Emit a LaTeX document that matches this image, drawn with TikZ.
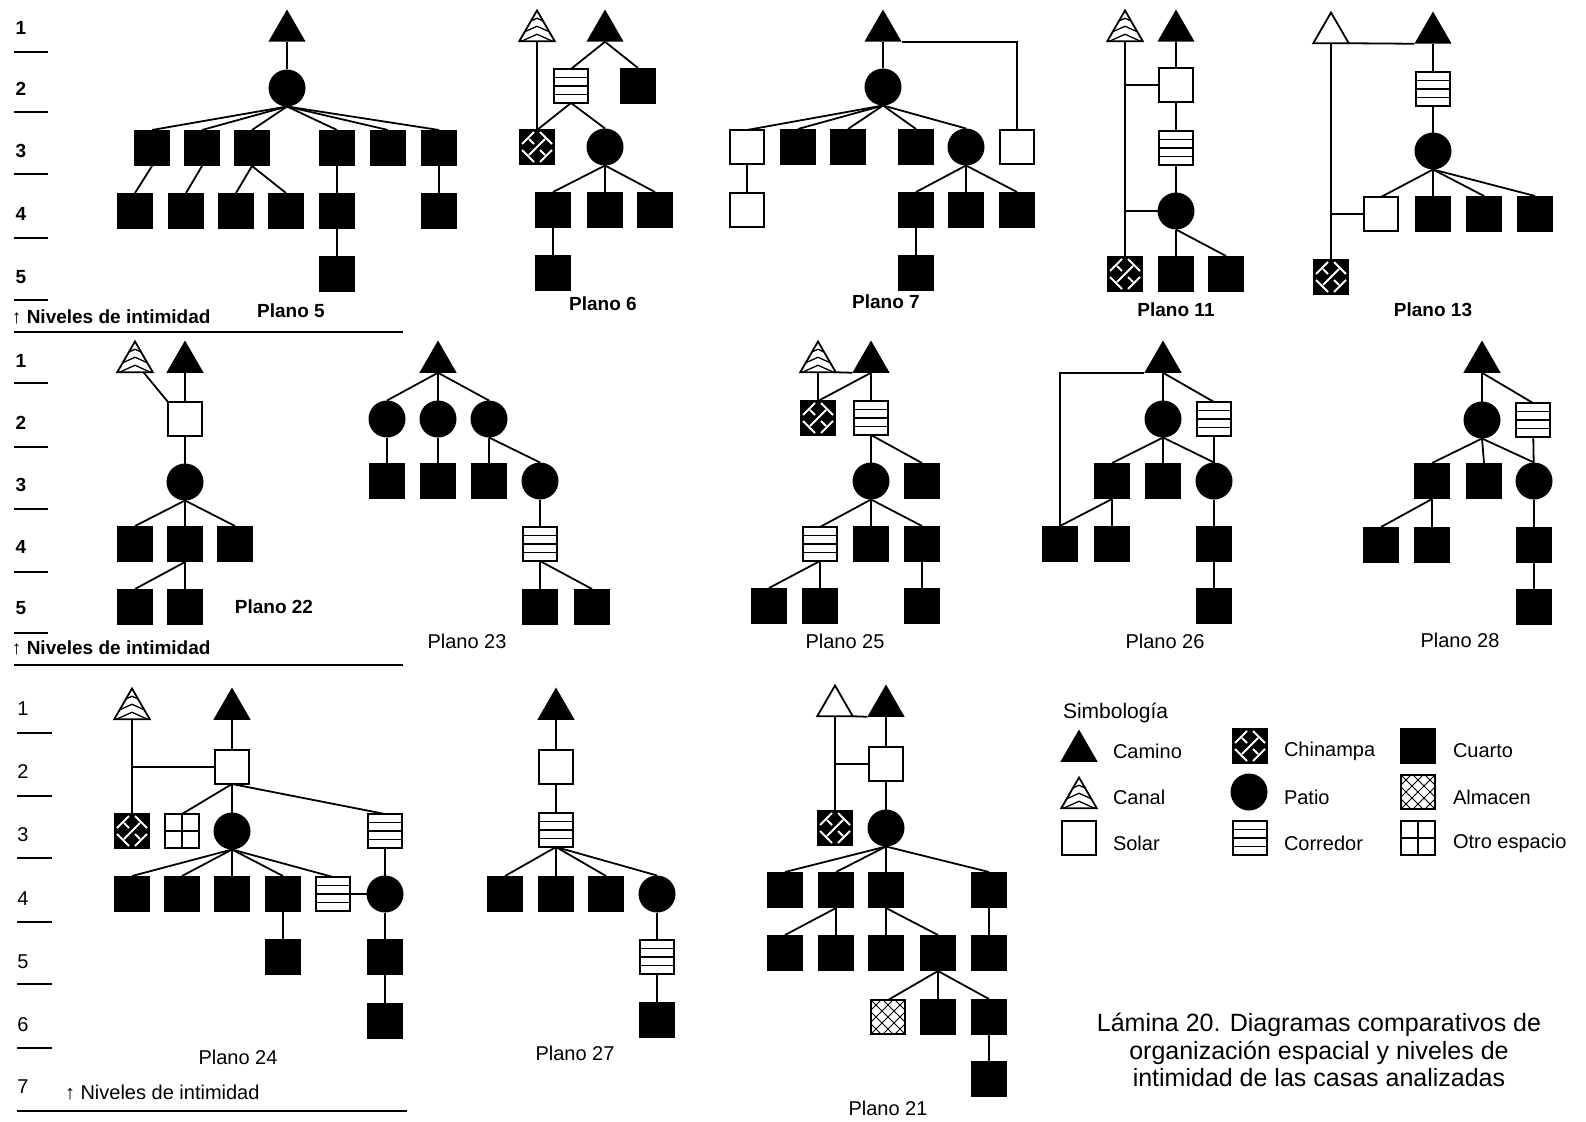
\documentclass[tikz,border=0pt]{standalone}
\usepackage{fontspec}
\setmainfont{Liberation Sans}
\usetikzlibrary{shapes.geometric}

\newcommand{\pb}{path picture bounding box}
\newcommand{\ws}[4]{\draw[white,line width=2pt] ([xshift=#1pt,yshift=#2pt]\pb.center) -- ([xshift=#3pt,yshift=#4pt]\pb.center);}

\tikzset{
  cuarto/.style={rectangle, fill=black, minimum size=36pt},
  solar/.style={rectangle, draw, fill=white, minimum size=34pt},
  patio/.style={circle, fill=black, minimum size=37pt},
  camino/.style={regular polygon, regular polygon sides=3, fill=black, minimum size=43pt},
  blanco/.style={regular polygon, regular polygon sides=3, draw, fill=white, minimum size=41pt},
  canal/.style={blanco, path picture={\foreach \h in {7,15,23} \draw[line width=1.3pt] ([xshift=-20pt,yshift={(\h-9)*1pt}]\pb.south) -- ([yshift=\h pt]\pb.south) -- ([xshift=20pt,yshift={(\h-9)*1pt}]\pb.south);}},
  chinampa/.style={rectangle, draw, fill=black, minimum size=34pt, path picture={\ws{-15}{3}{-3}{15}\ws{3}{-15}{15}{-3}\ws{-15}{-3}{-3}{-15}\ws{3}{15}{15}{3}\ws{-8}{-8}{8}{8}\ws{-8}{8}{-3}{3}\ws{3}{-3}{8}{-8}}},
  corredor/.style={solar, path picture={\foreach \d in {-8.5,0,8.5} \draw[line width=1.6pt] ([yshift=\d pt]\pb.west) -- ([yshift=\d pt]\pb.east);}},
  almacen/.style={solar, path picture={\foreach \s in {-24,-12,0,12,24} {\draw[line width=0.8pt] ([xshift={(\s-20)*1pt},yshift=-20pt]\pb.center) -- ([xshift={(\s+20)*1pt},yshift=20pt]\pb.center); \draw[line width=0.8pt] ([xshift={(\s-20)*1pt},yshift=20pt]\pb.center) -- ([xshift={(\s+20)*1pt},yshift=-20pt]\pb.center);}}},
  otro/.style={solar, path picture={\draw[line width=1.5pt] (\pb.north) -- (\pb.south) (\pb.west) -- (\pb.east);}},
  plano/.style={font=\fontsize{19}{22}\selectfont\bfseries},
  planor/.style={font=\fontsize{20}{23}\selectfont},
  nivel/.style={font=\fontsize{19}{22}\selectfont\bfseries},
  nivelr/.style={font=\fontsize{20}{23}\selectfont},
  leyenda/.style={font=\fontsize{20}{23}\selectfont, anchor=west}
}

\begin{document}
\begin{tikzpicture}[x=1pt, y=-1pt, line width=1.8pt, every node/.style={inner sep=0pt, outer sep=0pt}]
\useasboundingbox (0,0) rectangle (1586,1121);

\foreach \n/\y/\b in {1/28/52,2/89/112,3/151/174,4/214/238,5/277/300} {
  \node[nivel] (na\n) at (21,\y) {\n};
  \draw[line width=2pt] (14,\b) -- (48,\b);
}
\node[plano, anchor=west] (ni1) at (12,317) {↑ Niveles de intimidad};
\draw[line width=2pt] (14,332) -- (403,332);

\foreach \n/\y/\b in {1/361/383,2/423/447,3/485/509,4/547/572,5/608/633} {
  \node[nivel] (nb\n) at (21,\y) {\n};
  \draw[line width=2pt] (14,\b) -- (48,\b);
}
\node[plano, anchor=west] (ni2) at (12,648) {↑ Niveles de intimidad};
\draw[line width=2pt] (14,665) -- (403,665);

\foreach \n/\y/\b in {1/709/733,2/772/796,3/835/858,4/899/922,5/962/984,6/1025/1048} {
  \node[nivelr] (nc\n) at (23,\y) {\n};
  \draw[line width=2pt] (17,\b) -- (52,\b);
}
\node[nivelr] (nc7) at (23,1087) {7};
\node[nivelr, anchor=west] (ni3) at (65,1093) {↑ Niveles de intimidad};
\draw[line width=2pt] (17,1111) -- (407,1111);

% Plano 5
\node[camino] (t5) at (287,31) {};
\node[patio] (p5) at (287,88) {};
\node[cuarto] (a5) at (152,148) {};
\node[cuarto] (b5) at (202,148) {};
\node[cuarto] (c5) at (252,148) {};
\node[cuarto] (d5) at (337,148) {};
\node[cuarto] (e5) at (388,148) {};
\node[cuarto] (f5) at (439,148) {};
\node[cuarto] (a5x) at (135,211) {};
\node[cuarto] (b5x) at (186,211) {};
\node[cuarto] (c5x) at (236,211) {};
\node[cuarto] (g5x) at (286,211) {};
\node[cuarto] (d5x) at (337,211) {};
\node[cuarto] (f5x) at (439,211) {};
\node[cuarto] (d5y) at (337,274) {};
\draw (t5) -- (p5);
\foreach \k in {a5,b5,c5,d5,e5,f5} \draw (p5.south) -- (\k.north);
\draw (a5.south) -- (a5x.north);
\draw (b5.south) -- (b5x.north);
\draw (c5.south) -- (c5x.north);
\draw (c5.south) -- (g5x.north);
\draw (d5) -- (d5x) -- (d5y);
\draw (f5) -- (f5x);
\node[plano] (l5) at (291,311) {Plano 5};

% Plano 6
\node[canal] (k6) at (537,31) {};
\node[camino] (t6) at (605,31) {};
\node[corredor] (r6) at (571,86) {};
\node[cuarto] (q6) at (638,86) {};
\node[chinampa] (h6) at (537,147) {};
\node[patio] (p6) at (605,147) {};
\node[cuarto] (a6) at (553,210) {};
\node[cuarto] (b6) at (605,210) {};
\node[cuarto] (c6) at (655,210) {};
\node[cuarto] (d6) at (553,273) {};
\draw (k6) -- (h6);
\draw (t6.south) -- (r6.north);
\draw (t6.south) -- (q6.north);
\draw (r6.south) -- (h6.north);
\draw (r6.south) -- (p6.north);
\foreach \k in {a6,b6,c6} \draw (p6.south) -- (\k.north);
\draw (a6) -- (d6);
\node[plano] (l6) at (603,304) {Plano 6};

% Plano 7
\node[camino] (t7) at (883,31) {};
\node[patio] (p7) at (883,87) {};
\node[solar] (s7) at (747,147) {};
\node[cuarto] (a7) at (798,147) {};
\node[cuarto] (b7) at (848,147) {};
\node[cuarto] (c7) at (916,147) {};
\node[patio] (o7) at (966,147) {};
\node[solar] (u7) at (1017,147) {};
\node[solar] (s7x) at (747,210) {};
\node[cuarto] (c7x) at (916,210) {};
\node[cuarto] (o7a) at (966,210) {};
\node[cuarto] (o7b) at (1017,210) {};
\node[cuarto] (c7y) at (916,273) {};
\draw (t7) -- (p7);
\foreach \k in {s7,a7,b7,c7,o7} \draw (p7.south) -- (\k.north);
\draw (s7) -- (s7x);
\foreach \k in {c7x,o7a,o7b} \draw (o7.south) -- (\k.north);
\draw (c7x) -- (c7y);
\draw (t7.corner 3) -| (u7.north);
\node[plano] (l7) at (886,302) {Plano 7};

% Plano 11
\node[canal] (k11) at (1125,31) {};
\node[camino] (t11) at (1176,31) {};
\node[solar] (s11) at (1176,85) {};
\node[corredor] (r11) at (1176,148) {};
\node[patio] (p11) at (1176,211) {};
\node[chinampa] (h11) at (1125,274) {};
\node[cuarto] (a11) at (1176,274) {};
\node[cuarto] (b11) at (1226,274) {};
\draw (k11) -- (h11);
\draw (t11) -- (s11) -- (r11) -- (p11) -- (a11);
\draw (p11.south) -- (b11.north);
\draw (s11.west) -- (s11.west -| k11);
\draw (p11.west) -- (p11.west -| k11);
\node[plano] (l11) at (1176,310) {Plano 11};

% Plano 13
\node[blanco] (w13) at (1331,33) {};
\node[camino] (t13) at (1433,33) {};
\node[corredor] (r13) at (1433,89) {};
\node[patio] (p13) at (1433,151) {};
\node[solar] (s13) at (1381,214) {};
\node[cuarto] (a13) at (1433,214) {};
\node[cuarto] (b13) at (1484,214) {};
\node[cuarto] (c13) at (1535,214) {};
\node[chinampa] (h13) at (1331,277) {};
\draw (w13.corner 3) -- (t13.corner 2);
\draw (w13) -- (h13);
\draw (t13) -- (r13) -- (p13);
\foreach \k in {s13,a13,b13,c13} \draw (p13.south) -- (\k.north);
\draw (s13.west) -- (s13.west -| w13);
\node[plano] (l13) at (1433,310) {Plano 13};

% Plano 22
\node[canal] (k22) at (135,362) {};
\node[camino] (t22) at (185,362) {};
\node[solar] (s22) at (185,419) {};
\node[patio] (p22) at (185,482) {};
\node[cuarto] (a22) at (135,544) {};
\node[cuarto] (b22) at (185,544) {};
\node[cuarto] (c22) at (235,544) {};
\node[cuarto] (d22) at (135,607) {};
\node[cuarto] (e22) at (185,607) {};
\draw (k22) -- (s22.north west);
\draw (t22) -- (s22) -- (p22);
\foreach \k in {a22,b22,c22} \draw (p22.south) -- (\k.north);
\draw (b22.south) -- (d22.north);
\draw (b22) -- (e22);
\node[plano] (l22) at (274,607) {Plano 22};

% Plano 23
\node[camino] (t23) at (438,362) {};
\node[patio] (p23a) at (387,419) {};
\node[patio] (p23b) at (438,419) {};
\node[patio] (p23c) at (489,419) {};
\node[cuarto] (a23) at (387,481) {};
\node[cuarto] (b23) at (438,481) {};
\node[cuarto] (c23) at (489,481) {};
\node[patio] (o23) at (540,481) {};
\node[corredor] (r23) at (540,544) {};
\node[cuarto] (d23) at (540,607) {};
\node[cuarto] (e23) at (592,607) {};
\foreach \k in {p23a,p23b,p23c} \draw (t23.south) -- (\k.north);
\draw (p23a) -- (a23);
\draw (p23b) -- (b23);
\draw (p23c) -- (c23);
\draw (p23c.south) -- (o23.north);
\draw (o23) -- (r23) -- (d23);
\draw (r23.south) -- (e23.north);
\node[planor] (l23) at (467,641) {Plano 23};

% Plano 25
\node[canal] (k25) at (818,362) {};
\node[camino] (t25) at (871,362) {};
\node[chinampa] (h25) at (818,418) {};
\node[corredor] (r25) at (871,418) {};
\node[patio] (p25) at (871,481) {};
\node[cuarto] (a25) at (922,481) {};
\node[corredor] (r25x) at (820,544) {};
\node[cuarto] (b25) at (871,544) {};
\node[cuarto] (c25) at (922,544) {};
\node[cuarto] (d25) at (769,606) {};
\node[cuarto] (e25) at (820,606) {};
\node[cuarto] (f25) at (922,606) {};
\draw (k25.corner 3) -- (t25.corner 2);
\draw (k25) -- (h25);
\draw (t25.south) -- (h25.north);
\draw (t25) -- (r25) -- (p25);
\draw (r25.south) -- (a25.north);
\foreach \k in {r25x,b25,c25} \draw (p25.south) -- (\k.north);
\draw (r25x.south) -- (d25.north);
\draw (r25x) -- (e25);
\draw (c25) -- (f25);
\node[planor] (l25) at (845,641) {Plano 25};

% Plano 26
\node[camino] (t26) at (1163,362) {};
\node[patio] (p26) at (1163,419) {};
\node[corredor] (r26) at (1214,419) {};
\node[cuarto] (a26) at (1112,481) {};
\node[cuarto] (b26) at (1163,481) {};
\node[patio] (o26) at (1214,481) {};
\node[cuarto] (c26) at (1060,544) {};
\node[cuarto] (d26) at (1112,544) {};
\node[cuarto] (f26) at (1214,544) {};
\node[cuarto] (g26) at (1214,606) {};
\draw (t26) -- (p26);
\draw (t26.south) -- (r26.north);
\foreach \k in {a26,b26,o26} \draw (p26.south) -- (\k.north);
\draw (r26) -- (o26) -- (f26) -- (g26);
\draw (a26.south) -- (c26.north);
\draw (a26) -- (d26);
\draw (t26.corner 2) -| (c26.north);
\node[planor] (l26) at (1165,641) {Plano 26};

% Plano 28
\node[camino] (t28) at (1482,362) {};
\node[patio] (p28) at (1482,420) {};
\node[corredor] (r28) at (1533,420) {};
\node[cuarto] (a28) at (1432,481) {};
\node[cuarto] (b28) at (1484,481) {};
\node[patio] (o28) at (1534,481) {};
\node[cuarto] (c28) at (1381,545) {};
\node[cuarto] (d28) at (1432,545) {};
\node[cuarto] (f28) at (1534,545) {};
\node[cuarto] (g28) at (1534,607) {};
\draw (t28) -- (p28);
\draw (t28.south) -- (r28.north);
\foreach \k in {a28,b28,o28} \draw (p28.south) -- (\k.north);
\draw (r28) -- (o28) -- (f28) -- (g28);
\draw (a28.south) -- (c28.north);
\draw (a28) -- (d28);
\node[planor] (l28) at (1460,640) {Plano 28};

% Plano 24
\node[canal] (k24) at (132,709) {};
\node[camino] (t24) at (232,709) {};
\node[solar] (s24) at (232,767) {};
\node[chinampa] (h24) at (132,831) {};
\node[otro] (x24) at (182,831) {};
\node[patio] (p24) at (232,831) {};
\node[corredor] (r24) at (385,831) {};
\node[cuarto] (a24) at (132,894) {};
\node[cuarto] (b24) at (182,894) {};
\node[cuarto] (c24) at (232,894) {};
\node[cuarto] (d24) at (283,894) {};
\node[corredor] (r24x) at (333,894) {};
\node[patio] (o24) at (385,894) {};
\node[cuarto] (d24y) at (283,957) {};
\node[cuarto] (e24) at (385,957) {};
\node[cuarto] (f24) at (385,1021) {};
\draw (k24) -- (h24);
\draw (s24.west) -- (s24.west -| k24);
\draw (t24) -- (s24);
\foreach \k in {x24,p24,r24} \draw (s24.south) -- (\k.north);
\foreach \k in {a24,b24,c24,d24,r24x} \draw (p24.south) -- (\k.north);
\draw (r24) -- (o24) -- (e24) -- (f24);
\draw (r24x) -- (o24);
\draw (d24) -- (d24y);
\node[planor] (l24) at (238,1057) {Plano 24};

% Plano 27
\node[camino] (t27) at (556,709) {};
\node[solar] (s27) at (556,767) {};
\node[corredor] (r27) at (556,830) {};
\node[cuarto] (a27) at (505,894) {};
\node[cuarto] (b27) at (556,894) {};
\node[cuarto] (c27) at (606,894) {};
\node[patio] (o27) at (657,894) {};
\node[corredor] (r27x) at (657,957) {};
\node[cuarto] (d27) at (657,1020) {};
\draw (t27) -- (s27) -- (r27);
\foreach \k in {a27,b27,c27,o27} \draw (r27.south) -- (\k.north);
\draw (o27) -- (r27x) -- (d27);
\node[planor] (l27) at (575,1053) {Plano 27};

% Plano 21
\node[blanco] (w21) at (835,706) {};
\node[camino] (t21) at (886,706) {};
\node[solar] (s21) at (886,764) {};
\node[chinampa] (h21) at (835,828) {};
\node[patio] (p21) at (886,828) {};
\node[cuarto] (a21) at (785,890) {};
\node[cuarto] (b21) at (836,890) {};
\node[cuarto] (c21) at (886,890) {};
\node[cuarto] (d21) at (989,890) {};
\node[cuarto] (e21) at (785,953) {};
\node[cuarto] (f21) at (836,953) {};
\node[cuarto] (g21) at (886,953) {};
\node[cuarto] (i21) at (938,953) {};
\node[cuarto] (j21) at (989,953) {};
\node[almacen] (m21) at (888,1017) {};
\node[cuarto] (n21) at (938,1017) {};
\node[cuarto] (q21) at (989,1017) {};
\node[cuarto] (u21) at (989,1079) {};
\draw (w21.corner 3) -- (t21.corner 2);
\draw (w21) -- (h21);
\draw (s21.west) -- (s21.west -| w21);
\draw (t21) -- (s21) -- (p21);
\foreach \k in {a21,b21,c21,d21} \draw (p21.south) -- (\k.north);
\draw (b21.south) -- (e21.north);
\draw (b21) -- (f21);
\draw (c21) -- (g21);
\draw (c21.south) -- (i21.north);
\draw (d21) -- (j21);
\foreach \k in {m21,n21,q21} \draw (i21.south) -- (\k.north);
\draw (q21) -- (u21);
\node[planor] (l21) at (888,1108) {Plano 21};

% Simbologia
\node[leyenda, font=\fontsize{21}{24}\selectfont] (sim) at (1063,713) {Simbología};
\node[camino] (ya) at (1079,751) {};
\node[leyenda] (yat) at (1113,751) {Camino};
\node[chinampa] (yb) at (1250,746) {};
\node[leyenda] (ybt) at (1284,751) {Chinampa};
\node[cuarto] (yc) at (1418,746) {};
\node[leyenda] (yct) at (1453,751) {Cuarto};
\node[canal] (yd) at (1079,798) {};
\node[leyenda] (ydt) at (1113,797) {Canal};
\node[patio] (ye) at (1249,792) {};
\node[leyenda] (yet) at (1284,797) {Patio};
\node[almacen] (yf) at (1418,792) {};
\node[leyenda] (yft) at (1453,797) {Almacen};
\node[solar] (yg) at (1079,838) {};
\node[leyenda] (ygt) at (1113,843) {Solar};
\node[corredor] (yh) at (1250,838) {};
\node[leyenda] (yht) at (1284,843) {Corredor};
\node[otro] (yi) at (1418,838) {};
\node[leyenda] (yit) at (1453,843) {Otro espacio};

\node[align=center, font=\fontsize{25}{27.5}\selectfont] (cap) at (1319,1050) {Lámina 20. Diagramas comparativos de\\organización espacial y niveles de\\intimidad de las casas analizadas};
\end{tikzpicture}
\end{document}
